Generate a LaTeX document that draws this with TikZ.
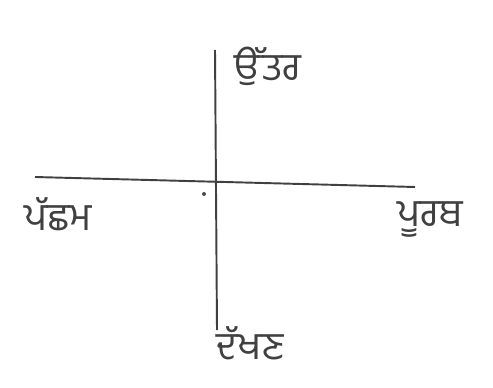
\documentclass[tikz,border=0pt]{standalone}
\usepackage{fontspec}
\newfontfamily\gurmukhi[Script=Gurmukhi]{Hind Jalandhar}
\usetikzlibrary{positioning}

\begin{document}
\begin{tikzpicture}[
    x=0.02cm,
    y=-0.02cm,
    axis/.style={
        draw=black!75,
        line width=1.1pt
    },
    dirlabel/.style={
        font=\gurmukhi\fontsize{22}{26}\selectfont,
        text=black!75,
        inner sep=0pt
    }
]

% Frame
\useasboundingbox (0,0) rectangle (493,388);

% Axis ends
\coordinate (n) at (215,50);
\coordinate (s) at (217,330);
\coordinate (w) at (35,177);
\coordinate (e) at (415,187);

% Direction labels
\node[dirlabel] (north) at (268,66) {ਉੱਤਰ};
\node[dirlabel] (west) at (58,214) {ਪੱਛਮ};
\node[dirlabel] (east) at (430,220) {ਪੂਰਬ};
\node[dirlabel] (south) at (250,343) {ਦੱਖਣ};

% Axes
\draw[axis] (n) -- (s);
\draw[axis] (w) -- (e);

% Stray mark
\fill[black!70] (204,194) circle (2);

\end{tikzpicture}
\end{document}
